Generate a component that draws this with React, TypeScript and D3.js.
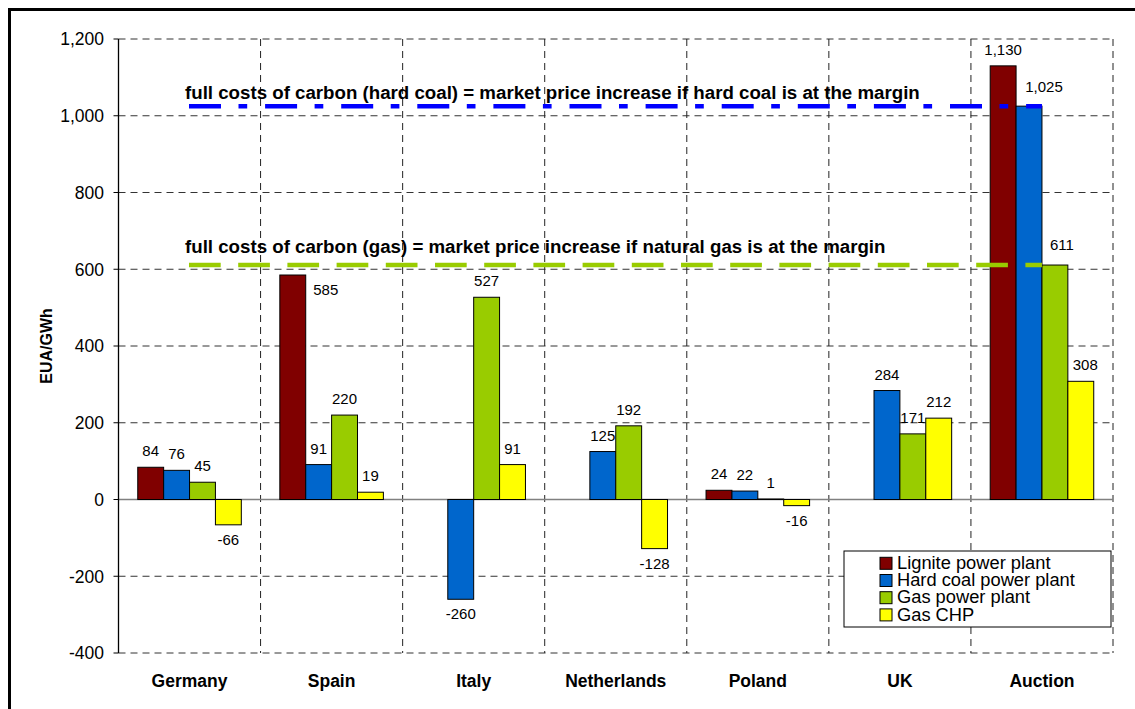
import React from "react";
import * as d3 from "d3";

const categories = ["Germany", "Spain", "Italy", "Netherlands", "Poland", "UK", "Auction"];
const seriesNames = ["Lignite power plant", "Hard coal power plant", "Gas power plant", "Gas CHP"];
const seriesColors = ["#800000", "#0066CC", "#99CC00", "#FFFF00"];
const lignite: (number | null)[] = [84, 585, null, null, 24, null, 1130];
const hardCoal: (number | null)[] = [76, 91, -260, 125, 22, 284, 1025];
const gasPlant: (number | null)[] = [45, 220, 527, 192, 1, 171, 611];
const gasCHP: (number | null)[] = [-66, 19, 91, -128, -16, 212, 308];
const yTicks = [-400, -200, 0, 200, 400, 600, 800, 1000, 1200];
const hardCoalCarbonCost = 1025;
const gasCarbonCost = 611;
const hardCoalText = "full costs of carbon (hard coal) = market price increase if hard coal is at the margin";
const gasText = "full costs of carbon (gas) = market price increase if natural gas is at the margin";
const yAxisTitle = "EUA/GWh";

// layout-only label nudges (series index, category index) -> [dx, dy]
const labelNudges: Record<string, [number, number]> = {
  "0-1": [33, 31],
  "1-6": [15, -3],
  "2-6": [7, -4],
  "3-6": [4.5, 0],
};

const W = 1135;
const H = 709;
const M = { left: 118.5, right: 1113, top: 39, bottom: 653 };
const FONT = "Arial, 'Liberation Sans', Helvetica, sans-serif";

const fmt = d3.formatLocale({ decimal: ".", thousands: ",", grouping: [3], currency: ["", ""], minus: "-" }).format(",");

export default function App() {
  const seriesValues = [lignite, hardCoal, gasPlant, gasCHP];
  const x = d3.scaleBand<string>().domain(categories).range([M.left, M.right]).paddingInner(0).paddingOuter(0);
  const xi = d3
    .scaleBand<string>()
    .domain(seriesNames)
    .range([0, x.bandwidth()])
    .paddingInner(0)
    .paddingOuter(0.744);
  const y = d3.scaleLinear().domain([-400, 1200]).range([M.bottom, M.top]);
  const bw = xi.bandwidth();

  const boundaries = categories.map((c) => (x(c) as number) + x.bandwidth());

  const refStart = 189;
  const refEnd = (x("Auction") as number) + (xi(seriesNames[1]) as number) + bw;

  return (
    <svg
      width={W}
      height={H}
      style={{ position: "absolute", left: 0, top: 0, background: "#fff" }}
      fontFamily={FONT}
    >
      <rect x={0} y={0} width={W} height={H} fill="#fff" />
      <rect x={9.5} y={9.5} width={3000} height={3000} fill="none" stroke="#000" strokeWidth={3} />

      {/* horizontal gridlines */}
      {yTicks
        .filter((t) => t !== 0)
        .map((t) => (
          <line
            key={"h" + t}
            x1={M.left}
            x2={M.right}
            y1={y(t)}
            y2={y(t)}
            stroke="#333"
            strokeWidth={1}
            strokeDasharray="7 5"
          />
        ))}
      {/* vertical gridlines */}
      {boundaries.map((bx, i) => (
        <line
          key={"v" + i}
          x1={bx}
          x2={bx}
          y1={M.top}
          y2={M.bottom}
          stroke="#222"
          strokeWidth={1}
          strokeDasharray="7 5"
        />
      ))}

      {/* zero line */}
      <line x1={M.left} x2={M.right} y1={y(0)} y2={y(0)} stroke="#808080" strokeWidth={1.5} />

      {/* y axis */}
      <line x1={M.left} x2={M.left} y1={M.top} y2={M.bottom} stroke="#000" strokeWidth={1.3} />
      {yTicks.map((t) => (
        <g key={"t" + t}>
          <line x1={M.left - 5} x2={M.left} y1={y(t)} y2={y(t)} stroke="#000" strokeWidth={1} />
          <text x={104} y={y(t)} dy="0.36em" textAnchor="end" fontSize={17.5} fill="#000">
            {fmt(t)}
          </text>
        </g>
      ))}

      {/* bars */}
      {seriesValues.map((vals, si) =>
        vals.map((v, ci) => {
          if (v === null) return null;
          const bx = (x(categories[ci]) as number) + (xi(seriesNames[si]) as number);
          const y0 = y(Math.max(0, v));
          const h = Math.max(0.5, Math.abs(y(v) - y(0)));
          return (
            <rect
              key={`b${si}-${ci}`}
              x={bx}
              y={v >= 0 ? y0 - (h - Math.abs(y(v) - y(0))) : y(0)}
              width={bw}
              height={h}
              fill={seriesColors[si]}
              stroke="#000"
              strokeWidth={1}
            />
          );
        })
      )}

      {/* reference lines */}
      <line
        x1={refStart}
        x2={refEnd}
        y1={y(hardCoalCarbonCost)}
        y2={y(hardCoalCarbonCost)}
        stroke="#0000FF"
        strokeWidth={4.5}
        strokeDasharray="32 17.5 8.7 17.9"
      />
      <line
        x1={refStart}
        x2={refEnd}
        y1={y(gasCarbonCost)}
        y2={y(gasCarbonCost)}
        stroke="#99CC00"
        strokeWidth={4.5}
        strokeDasharray="31.7 17.5"
      />
      <text x={185} y={98.5} fontSize={18.7} fontWeight="bold" fill="#000">
        {hardCoalText}
      </text>
      <text x={185} y={252.7} fontSize={18.7} fontWeight="bold" fill="#000">
        {gasText}
      </text>

      {/* value labels */}
      {seriesValues.map((vals, si) =>
        vals.map((v, ci) => {
          if (v === null) return null;
          const cx = (x(categories[ci]) as number) + (xi(seriesNames[si]) as number) + bw / 2;
          const nudge = labelNudges[`${si}-${ci}`] || [0, 0];
          const ly = v >= 0 ? y(v) - 11 : y(v) + 20;
          return (
            <text
              key={`l${si}-${ci}`}
              x={cx + nudge[0]}
              y={ly + nudge[1]}
              textAnchor="middle"
              fontSize={15}
              fill="#000"
            >
              {fmt(v)}
            </text>
          );
        })
      )}

      {/* category labels */}
      {categories.map((c) => (
        <text
          key={"c" + c}
          x={(x(c) as number) + x.bandwidth() / 2}
          y={686.7}
          textAnchor="middle"
          fontSize={17.5}
          fontWeight="bold"
          fill="#000"
        >
          {c}
        </text>
      ))}

      {/* y axis title */}
      <text
        transform={`translate(52, ${(M.top + M.bottom) / 2}) rotate(-90)`}
        textAnchor="middle"
        fontSize={16}
        fontWeight="bold"
        fill="#000"
      >
        {yAxisTitle}
      </text>

      {/* legend */}
      <g>
        <rect x={844} y={551} width={267} height={76} fill="#fff" stroke="#000" strokeWidth={1} />
        {seriesNames.map((s, i) => (
          <g key={"lg" + s}>
            <rect
              x={880}
              y={557.3 + i * 17.2}
              width={12}
              height={12}
              fill={seriesColors[i]}
              stroke="#000"
              strokeWidth={1}
            />
            <text x={897} y={569 + i * 17.2} fontSize={18.3} fill="#000">
              {s}
            </text>
          </g>
        ))}
      </g>
    </svg>
  );
}
